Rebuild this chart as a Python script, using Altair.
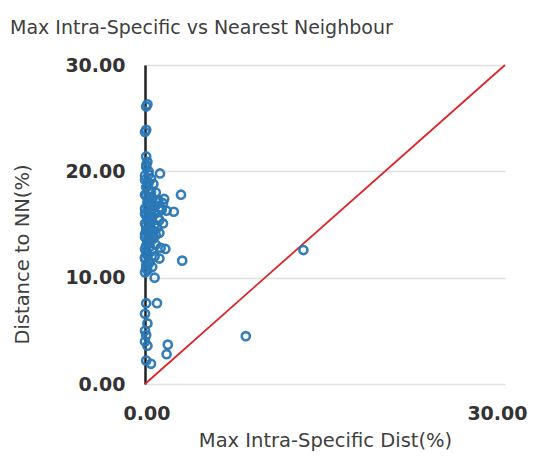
import altair as alt
import pandas as pd

# Max intra-specific distance (%) per species
x_vals = [0.2, 0.1, 0.1, 0.0, 0.1, 0.2, 1.25, 3.0, 2.4, 1.5, 1.7, 3.1, 1.2, 0.8, 1.0,
          0.1, 0.0, 0.2, 0.1, 0.2, 1.9, 1.8, 0.5, 8.4, 13.2,
          0.1, 0.3, 0.0, 0.5, 0.2, 0.7, 0.1, 0.4, 0.9, 0.0, 0.3, 0.6, 1.1, 1.6, 0.2,
          0.5, 0.9, 1.3, 0.0, 0.4, 0.8, 1.8, 0.1, 0.6, 1.1, 0.3, 0.0, 0.8, 0.4, 0.1,
          0.7, 1.2, 0.3, 0.0, 0.6, 0.2, 0.9, 0.4, 0.0, 1.3, 0.6, 0.2, 0.8, 0.0, 0.4,
          0.1, 0.6, 0.2, 0.3, 0.5, 0.2, 0.7, 1.0, 0.4, 0.1,
          0.0, 0.2, 0.5, 0.1, 0.3, 0.6, 0.0, 0.2, 0.4, 0.1, 0.3, 0.0, 0.5, 0.2, 0.1,
          0.0, 0.3, 0.1, 0.4, 0.2, 1.0, 1.4, 1.2, 0.9, 1.5, 0.0, 0.2, 0.1, 0.3, 0.0,
          0.0, 0.1]
# Distance to nearest neighbour (%)
y_vals = [26.3, 26.1, 23.9, 23.7, 21.4, 20.9, 19.8, 17.8, 16.2, 15.1, 12.7, 11.6, 11.8, 10.0, 7.6,
          7.6, 6.6, 5.7, 4.6, 3.6, 3.7, 2.8, 1.9, 4.5, 12.6,
          20.4, 20.0, 19.6, 19.3, 19.0, 18.8, 18.5, 18.2, 18.0, 17.8, 17.6, 17.5, 17.3, 17.4, 17.1,
          16.9, 16.8, 16.6, 16.5, 16.3, 16.1, 16.3, 15.9, 15.7, 15.6, 15.4, 15.1, 15.0, 14.8, 14.5,
          14.4, 14.2, 14.0, 13.8, 13.6, 13.3, 13.1, 12.9, 12.7, 12.8, 12.5, 12.2, 12.0, 11.8, 11.5,
          11.2, 11.0, 10.7, 18.9, 15.2, 16.7, 13.9, 14.7, 17.0, 13.0,
          19.2, 18.6, 18.1, 17.7, 17.2, 16.4, 16.0, 15.6, 15.3, 14.9, 14.6, 14.1, 13.7, 13.4, 12.4,
          11.9, 11.3, 10.9, 16.1, 14.3, 17.1, 16.4, 15.4, 14.0, 17.0, 10.5, 12.1, 20.6, 19.7, 4.0,
          5.0, 2.2]

# reference line y = x
line_x = [0, 30]
line_y = [0, 30]

y_ticks = [0, 10, 20, 30]
x_ticks = [0, 30]

pts = pd.DataFrame({"x": x_vals, "y": y_vals})
ln = pd.DataFrame({"x": line_x, "y": line_y})

FONT = "DejaVu Sans"

xscale = alt.Scale(domain=[0, 30], nice=False, zero=False)
yscale = alt.Scale(domain=[0, 30], nice=False, zero=False)

xaxis = alt.Axis(
    title="Max Intra-Specific Dist(%)", values=x_ticks, format=".2f",
    grid=False, domain=False, ticks=False, tickSize=0,
    labelFlush=True, labelFlushOffset=22,
    labelPadding=20, labelFont=FONT, labelFontWeight="bold", labelFontSize=19,
    labelColor="#333333", titleFont=FONT, titleFontSize=19.5, titleFontWeight="normal",
    titleColor="#404040", titlePadding=8,
)
yaxis = alt.Axis(
    title="Distance to NN(%)", values=y_ticks, format=".2f",
    grid=True, gridColor="#e0e0e0", gridWidth=1.5,
    domain=True, domainColor="#222222", domainWidth=2.5,
    ticks=False, tickSize=0, labelFlush=False, labelPadding=20,
    labelFont=FONT, labelFontWeight="bold", labelFontSize=19, labelColor="#333333",
    titleFont=FONT, titleFontSize=19.5, titleFontWeight="normal", titleColor="#404040",
    titleX=-113, titleY=189,
)

line = alt.Chart(ln).mark_line(color="#dd2428", strokeWidth=1.8).encode(
    x=alt.X("x:Q", scale=xscale, axis=xaxis),
    y=alt.Y("y:Q", scale=yscale, axis=yaxis),
)

points = alt.Chart(pts).mark_point(
    filled=False, color="#2a78b6", strokeWidth=2.6, size=66, opacity=0.95
).encode(
    x=alt.X("x:Q", scale=xscale, axis=xaxis),
    y=alt.Y("y:Q", scale=yscale, axis=yaxis),
)

chart = alt.layer(line, points).properties(
    width=360,
    height=319,
    autosize=alt.AutoSizeParams(type="none"),
    padding={"left": 137, "top": 57, "right": 22, "bottom": 68},
    title=alt.TitleParams(
        "Max Intra-Specific vs Nearest Neighbour", anchor="start", frame="group",
        dx=-135, offset=18, font=FONT, fontSize=19, fontWeight="normal", color="#404040",
    ),
).configure_view(stroke=None)

chart.save("out.html", embed_options={"renderer": "svg", "actions": False})
